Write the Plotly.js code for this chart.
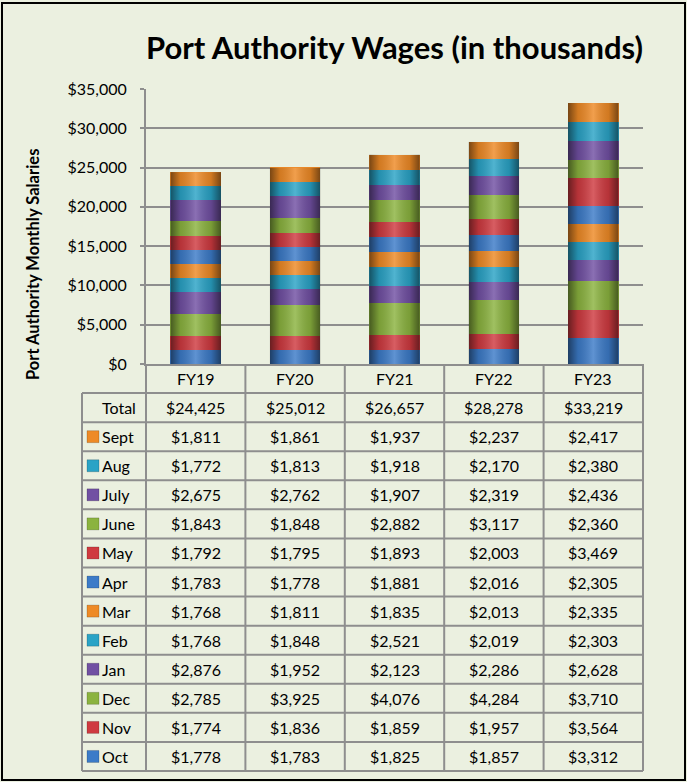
<!DOCTYPE html>
<html>
<head>
<meta charset="utf-8">
<script src="https://cdn.plot.ly/plotly-3.0.1.min.js"></script>
<style>html,body{margin:0;padding:0;background:#EBF0E0;}#chart{width:687px;height:782px;}</style>
</head>
<body>
<div id="chart"></div>
<script>
// ---- data ----
const categories = ['FY19', 'FY20', 'FY21', 'FY22', 'FY23'];
const months = ['Oct', 'Nov', 'Dec', 'Jan', 'Feb', 'Mar', 'Apr', 'May', 'June', 'July', 'Aug', 'Sept'];
const oct  = [1778, 1783, 1825, 1857, 3312];
const nov  = [1774, 1836, 1859, 1957, 3564];
const dec  = [2785, 3925, 4076, 4284, 3710];
const jan  = [2876, 1952, 2123, 2286, 2628];
const feb  = [1768, 1848, 2521, 2019, 2303];
const mar  = [1768, 1811, 1835, 2013, 2335];
const apr  = [1783, 1778, 1881, 2016, 2305];
const may  = [1792, 1795, 1893, 2003, 3469];
const june = [1843, 1848, 2882, 3117, 2360];
const july = [2675, 2762, 1907, 2319, 2436];
const aug  = [1772, 1813, 1918, 2170, 2380];
const sept = [1811, 1861, 1937, 2237, 2417];
const totals = [24425, 25012, 26657, 28278, 33219];
const yTickValues = [0, 5000, 10000, 15000, 20000, 25000, 30000, 35000];

const seriesValues = [oct, nov, dec, jan, feb, mar, apr, may, june, july, aug, sept];
const seriesColors = ['#3C7BC8', '#CF3A40', '#8BB33F', '#7150A3', '#2AA3C6', '#EE8A26',
                      '#3C7BC8', '#CF3A40', '#8BB33F', '#7150A3', '#2AA3C6', '#EE8A26'];

// ---- geometry helpers (pixel -> paper) ----
const W = 687, H = 782;
const L = 146, R = 643, T = 89, B = 364;
const px = v => (v - L) / (R - L);
const py = v => (B - v) / (B - T);
const tableLeft = 82, tableBottom = 771;
const nRows = 14;
const rowH = (tableBottom - B) / nRows;
const FONT = 'Lato, "Open Sans", sans-serif';
const fmt = v => '$' + v.toLocaleString('en-US');

// ---- traces ----
const traces = seriesValues.map((vals, i) => ({
  type: 'bar',
  name: months[i],
  x: categories,
  y: vals,
  marker: {color: seriesColors[i], line: {width: 0}},
  hoverinfo: 'x+y+name'
}));

// ---- shapes ----
const shapes = [];
const gridC = '#8E8E8E';
shapes.push({type: 'rect', xref: 'paper', yref: 'paper',
  x0: px(2), x1: px(685), y0: py(780), y1: py(3),
  line: {color: '#000', width: 2}, fillcolor: 'rgba(0,0,0,0)'});
for (let r = 1; r <= nRows; r++) {
  const y = B + r * rowH;
  shapes.push({type: 'line', xref: 'paper', yref: 'paper',
    x0: px(tableLeft), x1: px(R), y0: py(y), y1: py(y), line: {color: gridC, width: 2}});
}
const colEdges = [L];
for (let c = 1; c <= categories.length; c++) colEdges.push(L + c * (R - L) / categories.length);
colEdges.forEach(x => {
  shapes.push({type: 'line', xref: 'paper', yref: 'paper',
    x0: px(x), x1: px(x), y0: py(B), y1: py(tableBottom), line: {color: gridC, width: 2}});
});
shapes.push({type: 'line', xref: 'paper', yref: 'paper',
  x0: px(tableLeft), x1: px(tableLeft), y0: py(B + rowH), y1: py(tableBottom), line: {color: gridC, width: 2}});

// ---- annotations ----
const annotations = [];
const rowCenter = r => py(B + (r + 0.5) * rowH);
const cellFont = {family: FONT, size: 16, color: '#000'};
const cell = (xref, x, y, text, xanchor) => ({xref: xref, yref: 'paper', x: x, y: y, text: text,
  showarrow: false, xanchor: xanchor || 'center', yanchor: 'middle', font: cellFont});
categories.forEach(c => annotations.push(cell('x', c, rowCenter(0), c)));
annotations.push(cell('paper', px(100), rowCenter(1), 'Total', 'left'));
categories.forEach((c, j) => annotations.push(cell('x', c, rowCenter(1), fmt(totals[j]))));
for (let k = 0; k < months.length; k++) {
  const si = months.length - 1 - k;
  const r = 2 + k;
  const yc = B + (r + 0.5) * rowH;
  annotations.push(cell('paper', px(100), rowCenter(r), months[si], 'left'));
  shapes.push({type: 'rect', xref: 'paper', yref: 'paper',
    x0: px(87), x1: px(99), y0: py(yc + 6), y1: py(yc - 6),
    fillcolor: seriesColors[si], line: {color: 'rgba(0,0,0,0.35)', width: 0.5}});
  categories.forEach((c, j) => annotations.push(cell('x', c, rowCenter(r), fmt(seriesValues[si][j]))));
}
annotations.push({xref: 'paper', yref: 'paper', x: px(33), y: py(265), textangle: -90,
  xanchor: 'center', yanchor: 'middle',
  text: '<b>Port Authority Monthly Salaries</b>', showarrow: false,
  font: {family: FONT, size: 16.5, color: '#000'}});

// ---- cylinder shading overlay on bars ----
const grad = "<svg xmlns='http://www.w3.org/2000/svg' width='100' height='100' preserveAspectRatio='none'>" +
  "<defs><linearGradient id='g' x1='0' x2='1' y1='0' y2='0'>" +
  "<stop offset='0' stop-color='#000' stop-opacity='0.5'/>" +
  "<stop offset='0.2' stop-color='#000' stop-opacity='0.12'/>" +
  "<stop offset='0.5' stop-color='#fff' stop-opacity='0.18'/>" +
  "<stop offset='0.8' stop-color='#000' stop-opacity='0.12'/>" +
  "<stop offset='1' stop-color='#000' stop-opacity='0.5'/>" +
  "</linearGradient></defs><rect width='100' height='100' fill='url(#g)'/></svg>";
const gradSrc = 'data:image/svg+xml;charset=utf-8,' + encodeURIComponent(grad);
const barFrac = 0.51;
const stackTops = categories.map((c, j) => seriesValues.reduce((s, arr) => s + arr[j], 0));
const images = categories.map((c, j) => ({
  source: gradSrc, xref: 'x', yref: 'y', x: c, y: stackTops[j],
  sizex: barFrac, sizey: stackTops[j], xanchor: 'center', yanchor: 'top',
  sizing: 'stretch', layer: 'above', opacity: 1
}));

const layout = {
  width: W, height: H,
  margin: {l: L, r: W - R, t: T, b: H - B, pad: 0},
  paper_bgcolor: '#EBF0E0',
  plot_bgcolor: '#EBF0E0',
  barmode: 'stack',
  bargap: 1 - barFrac,
  showlegend: false,
  title: {text: '<b>Port Authority Wages (in thousands)</b>', x: 0.5, xref: 'paper',
    y: 1 - 48 / H, yref: 'container', yanchor: 'middle', xanchor: 'center',
    font: {family: FONT, size: 31, color: '#000'}},
  xaxis: {type: 'category', showticklabels: false, ticks: '', showgrid: false,
    showline: true, linecolor: gridC, linewidth: 2, zeroline: false, fixedrange: true},
  yaxis: {range: [0, 35000], tickmode: 'array', tickvals: yTickValues, ticktext: yTickValues.map(fmt),
    showgrid: true, gridcolor: gridC, gridwidth: 2, showline: true, linecolor: gridC, linewidth: 2,
    ticks: 'outside', ticklen: 4, tickcolor: gridC, tickwidth: 2, ticklabelstandoff: 10,
    zeroline: false, tickfont: {family: FONT, size: 16, color: '#000'}, fixedrange: true},
  shapes: shapes,
  annotations: annotations,
  images: images
};

Plotly.newPlot('chart', traces, layout, {displayModeBar: false, staticPlot: true});
</script>
</body>
</html>
